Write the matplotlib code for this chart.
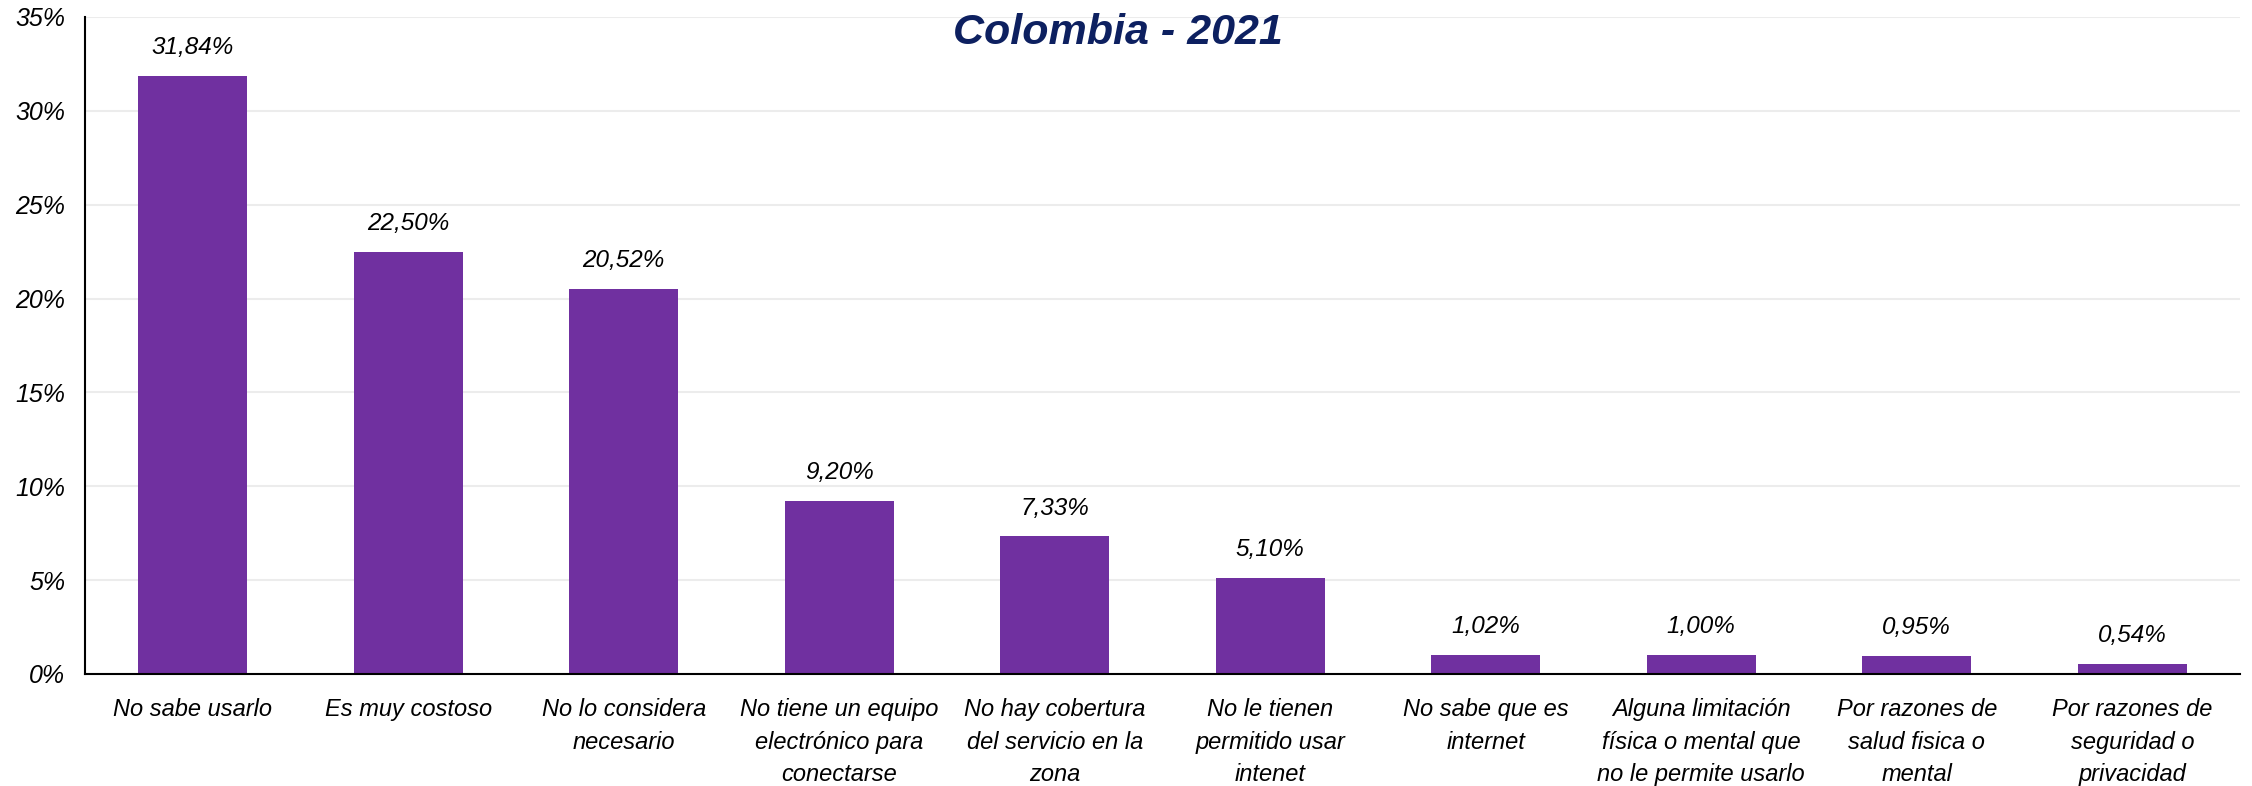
import numpy as np
import matplotlib
matplotlib.use("Agg")
import matplotlib.pyplot as plt

# Razones para no usar internet - Colombia 2021
categorias = [
    "No sabe usarlo",
    "Es muy costoso",
    "No lo considera\nnecesario",
    "No tiene un equipo\nelectrónico para\nconectarse",
    "No hay cobertura\ndel servicio en la\nzona",
    "No le tienen\npermitido usar\nintenet",
    "No sabe que es\ninternet",
    "Alguna limitación\nfísica o mental que\nno le permite usarlo",
    "Por razones de\nsalud fisica o\nmental",
    "Por razones de\nseguridad o\nprivacidad",
]
porcentajes = [31.84, 22.50, 20.52, 9.20, 7.33, 5.10, 1.02, 1.00, 0.95, 0.54]
yticks = [0, 5, 10, 15, 20, 25, 30, 35]

plt.rcParams["font.family"] = ["Liberation Sans", "DejaVu Sans"]

fig = plt.figure(figsize=(22.52, 7.86), dpi=100)
ax = fig.add_axes([0.0377, 0.1425, 0.957, 0.8359])

x = np.arange(len(categorias))
ax.bar(x, porcentajes, width=0.505, color="#7030a0", zorder=3)

for xi, v in zip(x, porcentajes):
    ax.text(xi, v + 0.9, f"{v:.2f}%".replace(".", ","), ha="center", va="bottom",
            fontsize=17.5, style="italic", color="black")

ax.set_xlim(-0.5, len(categorias) - 0.5)
ax.set_ylim(0, 35)
ax.set_yticks(yticks)
ax.set_yticklabels([f"{t}%" for t in yticks], fontsize=18, style="italic")
ax.set_xticks(x)
ax.set_xticklabels(categorias, fontsize=17, style="italic", va="top", linespacing=1.55)
ax.tick_params(axis="x", length=0, pad=17)
ax.tick_params(axis="y", length=0, pad=14)

ax.grid(axis="y", color="#ececec", linewidth=1.5, zorder=0)
for s in ["top", "right"]:
    ax.spines[s].set_visible(False)
ax.spines["left"].set_linewidth(1.5)
ax.spines["bottom"].set_linewidth(1.5)
ax.spines["left"].set_zorder(4)
ax.spines["bottom"].set_zorder(4)

fig.text(0.4965, 0.958, "Colombia - 2021", ha="center", va="center",
         fontsize=31, fontweight="bold", style="italic", color="#0d2060")

fig.savefig("out.png", dpi=100, facecolor="white")
